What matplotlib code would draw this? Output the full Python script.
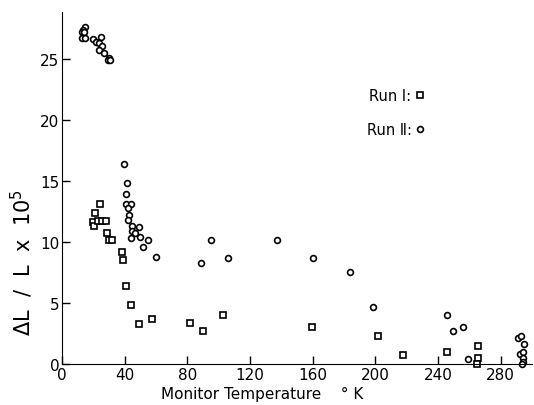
import matplotlib
matplotlib.use('Agg')
import matplotlib.pyplot as plt

# Run I (squares)
temp_run1 = [24.3, 21.1, 20.0, 20.6, 23.2, 25.7, 28.1, 28.5, 30.2, 31.9,
             38.1, 38.7, 40.7, 44.0, 49.1, 57.2, 81.7, 90.2, 102.9, 159.3,
             201.5, 217.8, 245.5, 265.7, 265.7, 264.6]
dl_run1 = [13.1, 12.4, 11.6, 11.3, 11.7, 11.7, 11.7, 10.7, 10.2, 10.2,
           9.2, 8.5, 6.4, 4.8, 3.3, 3.7, 3.4, 2.7, 4.0, 3.0,
           2.3, 0.7, 1.0, 1.5, 0.5, 0.0]

# Run II (circles)
temp_run2 = [14.7, 13.6, 12.6, 14.2, 13.0, 14.7, 20.0, 24.9, 21.7, 23.8,
             25.5, 23.4, 27.0, 29.8, 29.2, 30.6,
             39.8, 41.3, 40.8, 40.8, 43.8, 42.3, 42.9, 42.3, 44.5, 49.1,
             44.9, 46.6, 49.8, 43.8, 55.1, 51.9, 59.8,
             94.9, 137.0, 88.7, 105.7, 160.4, 184.0, 198.3,
             245.5, 249.7, 255.7, 259.3,
             291.2, 292.9, 294.8, 292.3, 294.4, 294.2, 294.4, 293.8]
dl_run2 = [27.6, 27.4, 27.2, 27.2, 26.7, 26.7, 26.6, 26.8, 26.4, 26.3,
           26.1, 25.7, 25.5, 25.1, 24.9, 24.9,
           16.4, 14.8, 13.9, 13.1, 13.1, 12.8, 12.2, 11.8, 11.3, 11.2,
           10.9, 10.7, 10.4, 10.3, 10.2, 9.6, 8.8,
           10.2, 10.2, 8.25, 8.66, 8.7, 7.5, 4.7,
           4.0, 2.7, 3.0, 0.4,
           2.1, 2.3, 1.6, 0.8, 1.0, 0.5, 0.15, 0.0]

x_ticks = [0, 40, 80, 120, 160, 200, 240, 280]
y_ticks = [0, 5, 10, 15, 20, 25]

fig = plt.figure(figsize=(5.34, 4.06), dpi=100)
ax = fig.add_axes([62/534, 41/406, 470/534, 352/406])

ax.plot(temp_run1, dl_run1, 's', ms=4, mfc='white', mec='black', mew=1.2,
        clip_on=False, label='Run Ⅰ:')
ax.plot(temp_run2, dl_run2, 'o', ms=4.2, mfc='white', mec='black', mew=1.2,
        clip_on=False, label='Run Ⅱ:')

ax.set_xlim(0, 300)
ax.set_ylim(0, 28.85)
ax.set_xticks(x_ticks)
ax.set_yticks(y_ticks)
ax.tick_params(direction='in', length=6, width=1, labelsize=11, pad=2)

ax.spines['top'].set_visible(False)
ax.spines['right'].set_visible(False)

ax.set_xlabel('Monitor Temperature    ° K', fontsize=11)
ax.xaxis.set_label_coords(0.425, -0.062)
ax.set_ylabel(r'$\Delta$L  /  L  x  10$^5$', fontsize=15)
ax.yaxis.set_label_coords(-0.058, 0.29)

ax.legend(loc='center left', bbox_to_anchor=(0.62, 0.715), frameon=False,
          markerfirst=False, handletextpad=0.2, handlelength=0.8,
          labelspacing=1.3, fontsize=10.5)

plt.savefig('out.png', dpi=100)
plt.close()
